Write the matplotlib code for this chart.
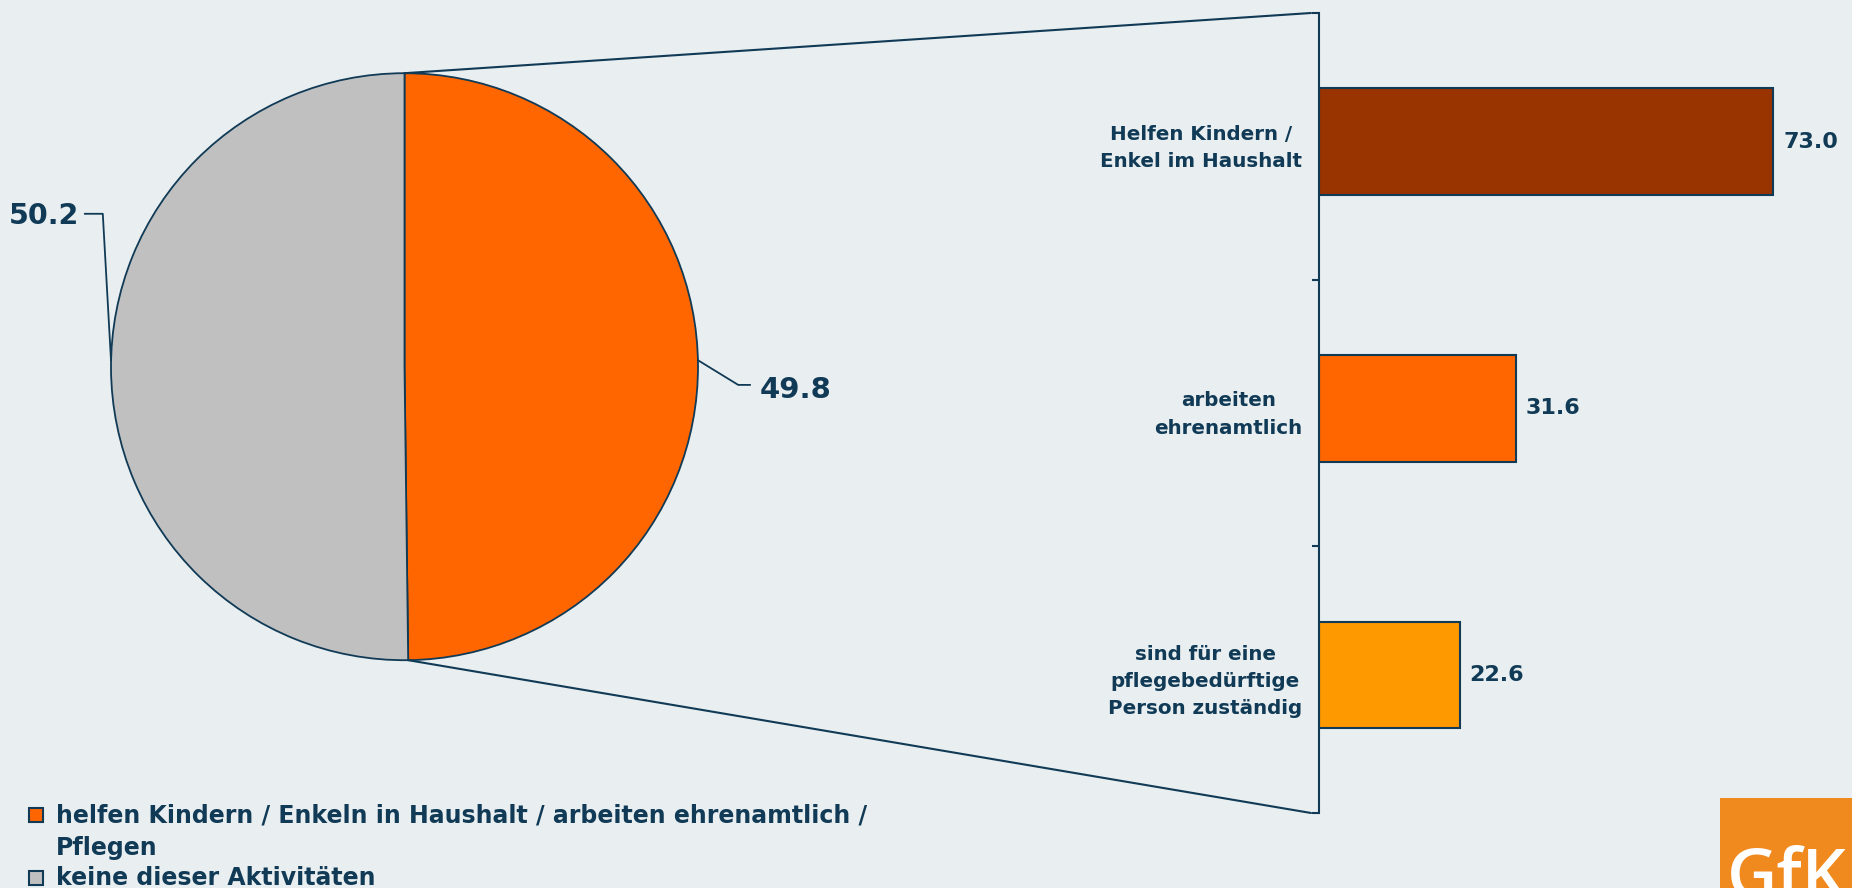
import numpy as np
import matplotlib
matplotlib.use('Agg')
import matplotlib.pyplot as plt
from matplotlib.patches import ConnectionPatch, Rectangle

# Daten
pie_labels = ['helfen Kindern / Enkeln in Haushalt / arbeiten ehrenamtlich /\nPflegen',
              'keine dieser Aktivitäten']
pie_values = [49.8, 50.2]
pie_colors = ['#ff6600', '#c0c0c0']

bar_labels = ['Helfen Kindern /\nEnkel im Haushalt',
              'arbeiten\nehrenamtlich',
              'sind für eine\npflegebedürftige\nPerson zuständig']
bar_values = [73.0, 31.6, 22.6]
bar_colors = ['#993300', '#ff6600', '#ff9900']

navy = '#103a56'
bg = '#e9eef0'
W, H = 1852, 888

plt.rcParams['font.family'] = ['DejaVu Sans']
plt.rcParams['font.weight'] = 'bold'

fig = plt.figure(figsize=(W / 100, H / 100), dpi=100, facecolor=bg)

# Kreisdiagramm (Position in Pixel)
cx, cy, r = 404.5, 366.7, 293.5
ax_pie = fig.add_axes([(cx - r) / W, (H - cy - r) / H, 2 * r / W, 2 * r / H])
ax_pie.pie(pie_values, colors=pie_colors, startangle=90, counterclock=False,
           wedgeprops=dict(edgecolor=navy, linewidth=1.3))
ax_pie.set_xlim(-1, 1)
ax_pie.set_ylim(-1, 1)

# Beschriftung mit Fuehrungslinien
ax_pie.plot([-1.0, -1.028, -1.089], [0.022, 0.521, 0.521], color=navy, lw=1.3, clip_on=False)
ax_pie.text(-1.109, 0.513, f'{pie_values[1]:.1f}', ha='right', va='center',
            fontsize=20.5, color=navy, fontweight='bold', clip_on=False)
ax_pie.plot([1.0, 1.137, 1.177], [0.022, -0.062, -0.062], color=navy, lw=1.3, clip_on=False)
ax_pie.text(1.209, -0.078, f'{pie_values[0]:.1f}', ha='left', va='center',
            fontsize=21, color=navy, fontweight='bold', clip_on=False)

# Balkendiagramm
ax_bar = fig.add_axes([1319 / W, (H - 813) / H, (W - 1319) / W, 800 / H])
ax_bar.set_facecolor('none')
y = np.arange(len(bar_values))
yb = y - 0.017  # Balken leicht nach oben versetzt wie im Original
ax_bar.barh(yb, bar_values, height=0.4, color=bar_colors, edgecolor=navy, linewidth=1.5)
ax_bar.set_xlim(0, (W - 1319) / 6.225)
ax_bar.set_ylim(len(bar_values) - 0.5, -0.5)
for s in ['top', 'right', 'bottom']:
    ax_bar.spines[s].set_visible(False)
ax_bar.spines['left'].set_color(navy)
ax_bar.spines['left'].set_linewidth(1.5)
ax_bar.set_xticks([])
ax_bar.set_yticks(np.arange(len(bar_values) + 1) - 0.5)
ax_bar.set_yticklabels([])
ax_bar.tick_params(axis='y', which='major', length=5, width=1.5, color=navy)
ax_bar.set_yticks(yb, minor=True)
ax_bar.set_yticklabels(bar_labels, minor=True, fontsize=14.3, color=navy,
                       fontweight='bold', multialignment='center', linespacing=1.55)
ax_bar.tick_params(axis='y', which='minor', length=0, pad=12)

for yi, v in zip(yb, bar_values):
    ax_bar.annotate(f'{v:.1f}', (v, yi), xytext=(7, 0), textcoords='offset points',
                    ha='left', va='center', fontsize=16, color=navy, fontweight='bold')

# Verbindungslinien Kreis -> Balken
end_ang = np.deg2rad(90 - 360 * pie_values[0] / sum(pie_values))
for xyA, xyB in [((0, 1), (-0.015, 1.0)),
                 ((np.cos(end_ang), np.sin(end_ang)), (-0.015, 0.0))]:
    con = ConnectionPatch(xyA=xyA, coordsA=ax_pie.transData,
                          xyB=xyB, coordsB=ax_bar.transAxes,
                          color=navy, lw=1.5)
    fig.add_artist(con)

# Legende (manuell)
rows = [815, 877.5]
for lab, col, ry in zip(pie_labels, pie_colors, rows):
    fig.add_artist(Rectangle((29 / W, (H - ry - 7) / H), 14 / W, 14 / H,
                             transform=fig.transFigure, facecolor=col,
                             edgecolor=navy, linewidth=1.5))
    for k, line in enumerate(lab.split('\n')):
        fig.text(55.5 / W, (H - ry - 33 * k) / H, line, ha='left', va='center',
                 fontsize=17, color=navy, fontweight='bold')

# GfK Logo
fig.add_artist(Rectangle((1720 / W, 0), (W - 1720) / W, 90 / H,
                         transform=fig.transFigure, facecolor='#f08a1f',
                         edgecolor='none'))
fig.text(1727 / W, (H - 845) / H, 'GfK', ha='left', va='top', fontsize=50,
         color='white', fontweight='semibold', family=['Open Sans', 'DejaVu Sans'])

fig.savefig('out.png', dpi=100, facecolor=bg)
